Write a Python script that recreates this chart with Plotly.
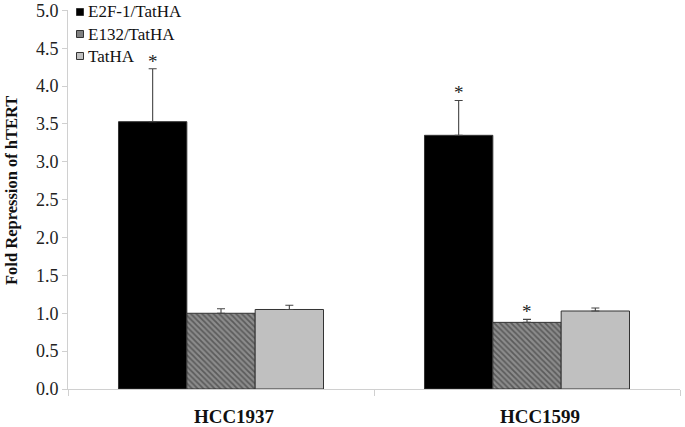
import plotly.graph_objects as go

categories = ["HCC1937", "HCC1599"]
series_names = ["E2F-1/TatHA", "E132/TatHA", "TatHA"]
e2f1_values = [3.53, 3.35]
e2f1_errors = [0.70, 0.46]
e132_values = [1.00, 0.88]
e132_errors = [0.06, 0.04]
tatha_values = [1.05, 1.03]
tatha_errors = [0.055, 0.04]
significant = [[True, True], [False, True], [False, False]]
y_ticks = [0.0, 0.5, 1.0, 1.5, 2.0, 2.5, 3.0, 3.5, 4.0, 4.5, 5.0]
y_title = "Fold Repression of hTERT"

serif = "Liberation Serif, Times New Roman, serif"
values = [e2f1_values, e132_values, tatha_values]
errors = [e2f1_errors, e132_errors, tatha_errors]

W, H = 685, 427
ML, MR, MT, MB = 68, 5, 10, 38
PW, PH = W - ML - MR, H - MT - MB

fig = go.Figure()
styles = [
    dict(color="#000000"),
    dict(color="#7a7a7a", pattern=dict(shape="\\", fgcolor="#2a2a2a", bgcolor="#8c8c8c", size=4, solidity=0.45)),
    dict(color="#c0c0c0"),
]
legend_fill = ["#000000", "#808080", "#c0c0c0"]
for name, vals, errs, st in zip(series_names, values, errors, styles):
    fig.add_trace(go.Bar(
        x=categories, y=vals, name=name, showlegend=False,
        marker=dict(line=dict(color="#333333", width=1), **st),
        error_y=dict(type="data", array=errs, arrayminus=[0] * len(errs), symmetric=False,
                     color="#444444", thickness=1.1, width=4),
    ))

bargap = 0.33
bar_w = (1 - bargap) / len(series_names)
for si, (vals, errs) in enumerate(zip(values, errors)):
    for ci in range(len(categories)):
        if significant[si][ci]:
            xpos = ci - (1 - bargap) / 2 + bar_w * (si + 0.5)
            fig.add_annotation(x=xpos, y=vals[ci] + errs[ci], xref="x", yref="y",
                               text="*", showarrow=False, yanchor="bottom", yshift=-5,
                               font=dict(family=serif, size=19, color="#222"))

# custom legend (small squares + text), positioned in pixels converted to paper coords
def px_x(p):
    return (p - ML) / PW

def px_y(p):
    return (H - MB - p) / PH

row_y = [12, 34, 56]
for name, fill, ry in zip(series_names, legend_fill, row_y):
    fig.add_shape(type="rect", xref="paper", yref="paper",
                  x0=px_x(76.5), x1=px_x(83.5), y0=px_y(ry + 3.5), y1=px_y(ry - 3.5),
                  fillcolor=fill, line=dict(color="#333333", width=1))
    fig.add_annotation(x=px_x(86), y=px_y(ry), xref="paper", yref="paper", text=name,
                       showarrow=False, xanchor="left", yanchor="middle",
                       font=dict(family=serif, size=17, color="#111"))

# y-axis title as rotated annotation
fig.add_annotation(x=px_x(12), y=px_y(191), xref="paper", yref="paper",
                   text="<b>" + y_title + "</b>", textangle=-90, showarrow=False,
                   xanchor="center", yanchor="middle",
                   font=dict(family=serif, size=16.5, color="#111"))

fig.update_layout(
    width=W, height=H,
    margin=dict(l=ML, r=MR, t=MT, b=MB, autoexpand=False),
    plot_bgcolor="white", paper_bgcolor="white",
    barmode="group", bargap=bargap, bargroupgap=0,
    font=dict(family=serif, color="#111"),
    showlegend=False,
    xaxis=dict(showline=True, linecolor="#d0d0d0", linewidth=1,
               ticks="outside", tickson="boundaries", ticklen=6, tickcolor="#d0d0d0",
               ticklabelshift=13, ticklabelstandoff=10,
               tickfont=dict(family=serif, size=19, color="#111", weight="bold")),
    yaxis=dict(range=[0, 5.005], tickvals=y_ticks, tickformat=".1f",
               showline=True, linecolor="#d0d0d0", linewidth=1, showgrid=False, zeroline=False,
               ticks="outside", ticklen=5, tickcolor="#d0d0d0",
               tickfont=dict(family=serif, size=18, color="#222")),
)
fig.write_html("out.html", config={"displayModeBar": False},
               post_script="document.body.style.margin='0px';")
